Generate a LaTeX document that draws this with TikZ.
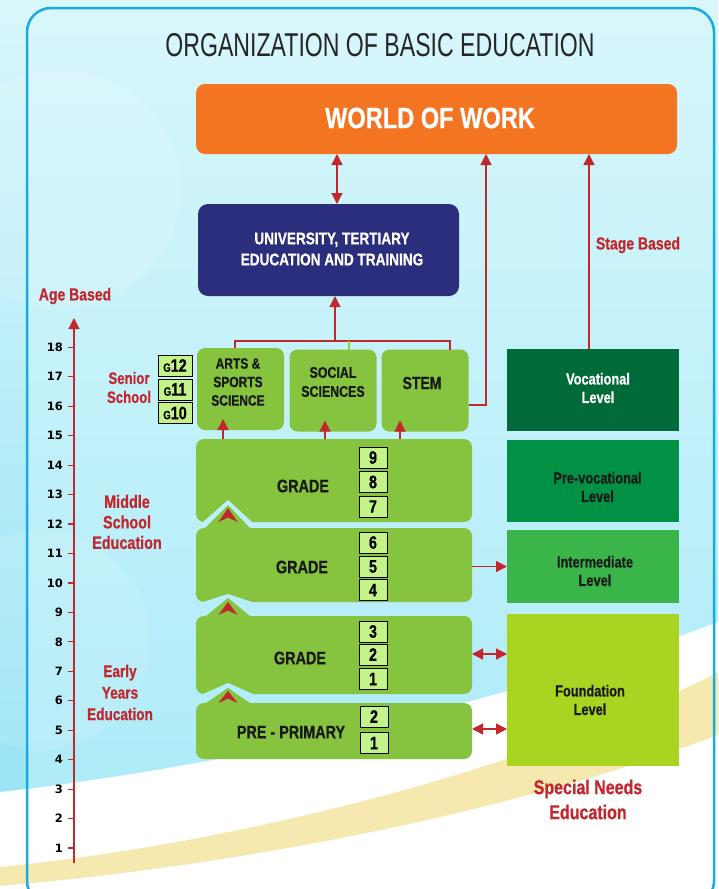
\documentclass[tikz,border=0pt]{standalone}
\usepackage{fontspec}
\setmainfont{Liberation Sans}
\newfontfamily\cf[FakeStretch=0.8, BoldFeatures={FakeBold=0.6}]{Liberation Sans}
\newfontfamily\ttl[FakeStretch=0.70]{Liberation Sans}
\newfontfamily\numf{DejaVu Sans}
\usetikzlibrary{arrows.meta}
\definecolor{wowc}{HTML}{F37421}
\definecolor{navyc}{HTML}{2B2E7C}
\definecolor{gbox}{HTML}{86C440}
\definecolor{lbox}{HTML}{C4F38A}
\definecolor{red1}{HTML}{C1272D}
\definecolor{vocc}{HTML}{006B38}
\definecolor{prevocc}{HTML}{009145}
\definecolor{interc}{HTML}{3AB54A}
\definecolor{foundc}{HTML}{A9D422}
\definecolor{frameblue}{HTML}{1CA9E1}
\definecolor{cyanA}{HTML}{D8F7FB}
\definecolor{cyanB}{HTML}{A8EAF8}
\definecolor{cyanC}{HTML}{92E2F5}
\definecolor{sand}{HTML}{F5E9B0}
\definecolor{tickgreen}{HTML}{9ACD32}
\newcommand\setfs[2]{\fontsize{#1}{#2}\selectfont}
\newcommand\bgpaint{%
  \shade[top color=cyanA, bottom color=cyanB] (0,0) rectangle (718,889);
  \shade[top color=cyanA, bottom color=cyanC] (0,0) rectangle (26,889);
  \fill[white, opacity=0.12] (60,190) circle[radius=120];
  \fill[white, opacity=0.10] (40,640) circle[radius=110];
  \fill[white] (0,792) .. controls (200,770) and (480,712) .. (718,622) -- (718,889) -- (0,889) -- cycle;
  \fill[sand] (0,867) .. controls (250,842) and (540,765) .. (718,672) -- (718,735) .. controls (560,795) and (300,860) .. (0,886) -- cycle;
}
\begin{document}
\begin{tikzpicture}[x=1pt,y=-1pt,
  arr/.style={draw=red1, line width=1.3pt, -{Triangle[length=11pt,width=11pt]}},
  darr/.style={draw=red1, line width=1.3pt, {Triangle[length=11pt,width=11pt]}-{Triangle[length=11pt,width=11pt]}},
  numbox/.style={draw=black, line width=0.8pt, fill=lbox, minimum width=28pt, minimum height=21pt, inner sep=0pt, font=\cf\bfseries\setfs{18}{18}},
  gbx/.style={draw=black, line width=0.8pt, fill=lbox, minimum width=34pt, minimum height=21pt, inner sep=0pt, font=\cf\bfseries},
  lbl/.style={font=\cf\bfseries\setfs{18}{21}, text=black!90, align=center, inner sep=0pt},
  redl/.style={font=\cf\bfseries\setfs{17.5}{21}, text=red1, align=center, inner sep=0pt},
  lvlt/.style={font=\cf\bfseries\setfs{16}{18.5}, text=black!90, align=center, inner sep=0pt},
  area/.style={inner sep=0pt, outer sep=0pt},
  chev/.style={fill=red1},
]
\useasboundingbox (0,0) rectangle (718,889);
\bgpaint
\draw[frameblue, line width=2.5pt, rounded corners=24pt] (27,8) rectangle (714,905);

% title
\node[font=\ttl\setfs{33}{33}, text=black!85, inner sep=0pt] (title) at (380,45.5) {ORGANIZATION OF BASIC EDUCATION};

% world of work
\node[area, fill=wowc, rounded corners=9pt, minimum width=481pt, minimum height=70pt] (wow) at (436.5,119) {};
\node[font=\cf\bfseries\setfs{29.5}{30}, text=white, inner sep=0pt] (wowt) at (430,118) {WORLD OF WORK};

% university
\node[area, fill=navyc, rounded corners=10pt, minimum width=261pt, minimum height=92pt] (univ) at (328.5,250) {};
\node[font=\cf\bfseries\setfs{17}{21}, text=white, align=center, inner sep=0pt] (univt) at (332,249) {UNIVERSITY, TERTIARY\\EDUCATION AND TRAINING};

% senior school boxes
\node[area, fill=gbox, rounded corners=8pt, minimum width=87pt, minimum height=82pt] (arts) at (240.5,389) {};
\node[lbl, font=\cf\bfseries\setfs{15}{18.5}] (artst) at (238,382) {ARTS \&\\SPORTS\\SCIENCE};
\node[area, fill=gbox, rounded corners=8pt, minimum width=87pt, minimum height=82pt] (soc) at (333,390.5) {};
\node[lbl, font=\cf\bfseries\setfs{15.5}{19}] (soct) at (333,382) {SOCIAL\\SCIENCES};
\node[area, fill=gbox, rounded corners=8pt, minimum width=87pt, minimum height=82pt] (stem) at (425,390.5) {};
\node[lbl, font=\cf\bfseries\setfs{17.5}{20}] (stemt) at (422,383) {STEM};

% G boxes
\node[gbx] (g12) at (175,365.5) {{\setfs{12}{12}G}{\setfs{18}{18}12}};
\node[gbx] (g11) at (175,389.5) {{\setfs{12}{12}G}{\setfs{18}{18}11}};
\node[gbx] (g10) at (175,413) {{\setfs{12}{12}G}{\setfs{18}{18}10}};

% grade boxes (anchor areas)
\node[area, minimum width=276pt, minimum height=83pt] (g79) at (334,480.5) {};
\node[area, minimum width=276pt, minimum height=74pt] (g46) at (334,565) {};
\node[area, minimum width=276pt, minimum height=78pt] (g13) at (334,655) {};
\node[area, minimum width=276pt, minimum height=56pt] (pp) at (334,731) {};

% grades 7-9
\fill[gbox, rounded corners=8pt] (g79.south west) rectangle (g79.north east);
\begin{scope}\clip (203,524) -- (203,522) -- (228,500) -- (252,522) -- (252,524) -- cycle; \bgpaint\end{scope}
% grades 4-6
\fill[gbox, rounded corners=8pt] (g46.south west) rectangle (g46.north east);
\fill[gbox] (205,530) -- (205,528) -- (228,505) -- (250,528) -- (250,530) -- cycle;
\fill[chev] (218.5,522) -- (228,508) -- (237.5,522) -- (228,517.5) -- cycle;
\begin{scope}\clip (203,604) -- (203,602) -- (228,594) -- (252,602) -- (252,604) -- cycle; \bgpaint\end{scope}
% grades 1-3
\fill[gbox, rounded corners=8pt] (g13.south west) rectangle (g13.north east);
\fill[gbox] (206,618) -- (206,616) -- (228,598) -- (250,616) -- (250,618) -- cycle;
\fill[chev] (218.5,615) -- (228,602) -- (237.5,615) -- (228,610.5) -- cycle;
\begin{scope}\clip (203,696) -- (203,694) -- (228,683) -- (253,694) -- (253,696) -- cycle; \bgpaint\end{scope}
% pre-primary
\fill[gbox, rounded corners=8pt] (pp.south west) rectangle (pp.north east);
\fill[gbox] (206,705) -- (206,703) -- (228,688) -- (250,703) -- (250,705) -- cycle;
\fill[chev] (218.5,703) -- (228,691) -- (237.5,703) -- (228,698.5) -- cycle;

% grade labels
\node[lbl] (gr79) at (303,486) {GRADE};
\node[lbl] (gr46) at (302,567) {GRADE};
\node[lbl] (gr13) at (300,658) {GRADE};
\node[lbl] (prt) at (291,732) {PRE - PRIMARY};

% number boxes
\node[numbox] (n9) at (373,457.5) {9};
\node[numbox] (n8) at (373,482) {8};
\node[numbox] (n7) at (373,506.5) {7};
\node[numbox] (n6) at (373,542.5) {6};
\node[numbox] (n5) at (373,566.5) {5};
\node[numbox] (n4) at (373,590) {4};
\node[numbox] (n3) at (373,631.5) {3};
\node[numbox] (n2) at (373,654.5) {2};
\node[numbox] (n1) at (373,679) {1};
\node[numbox] (p2) at (374,716.5) {2};
\node[numbox] (p1) at (374,743) {1};

% right column
\node[area, fill=vocc, minimum width=172pt, minimum height=82pt] (voc) at (593,390) {};
\node[lvlt, text=white] (voct) at (598,388) {Vocational\\Level};
\node[area, fill=prevocc, minimum width=172pt, minimum height=82pt] (prevoc) at (593,481) {};
\node[lvlt] (prevoct) at (597.5,487) {Pre-vocational\\Level};
\node[area, fill=interc, minimum width=172pt, minimum height=73pt] (inter) at (593,566.5) {};
\node[lvlt] (intert) at (595,571) {Intermediate\\Level};
\node[area, fill=foundc, minimum width=172pt, minimum height=152pt] (found) at (593,690) {};
\node[lvlt] (foundt) at (590,700) {Foundation\\Level};

% red labels
\node[redl] (stage) at (638,245) {Stage Based};
\node[redl] (ageb) at (75,296) {Age Based};
\node[redl, font=\cf\bfseries\setfs{16.5}{19}] (senior) at (129,387.5) {Senior\\School};
\node[redl, font=\cf\bfseries\setfs{18}{20.5}] (middle) at (127,522) {Middle\\School\\Education};
\node[redl, font=\cf\bfseries\setfs{17}{21.5}] (early) at (120,692.5) {Early\\Years\\Education};
\node[redl, font=\cf\bfseries\setfs{20}{25}] (special) at (588,799.5) {Special Needs\\Education};

% connectors
\draw[darr] ([xshift=8.5pt]univ.north) -- ([xshift=8.5pt]univ.north |- wow.south);
\coordinate (bl) at (235,341);
\coordinate (br) at (450,341);
\coordinate (bm) at (349,341);
\coordinate (bu) at (335,341);
\draw[red1, line width=1.3pt] (bl |- arts.north) -- (bl) -- (br) -- (br |- stem.north);
\draw[tickgreen, line width=1.2pt] (bm) -- (bm |- soc.north);
\draw[arr] (bu) -- (bu |- univ.south);
\coordinate (sr) at (486,405);
\draw[arr] (sr -| stem.east) -- (sr) -- (sr |- wow.south);
\draw[arr] ([xshift=-4pt]voc.north) -- ([xshift=-4pt]voc.north |- wow.south);
\coordinate (a1) at (223,439);
\coordinate (a2) at (325,439);
\coordinate (a3) at (400,439);
\draw[arr, shorten >=-11pt] (a1) -- (a1 |- arts.south);
\draw[arr, shorten >=-11pt] (a2) -- (a2 |- soc.south);
\draw[arr, shorten >=-11pt] (a3) -- (a3 |- stem.south);
\draw[arr] (g46.east |- inter.west) -- (inter.west);
\coordinate (d1) at (472,654);
\coordinate (d2) at (472,729);
\draw[darr] (d1) -- (d1 -| found.west);
\draw[darr] (d2) -- (d2 -| found.west);

% age axis
\coordinate (axb) at (74,863);
\coordinate (axt) at (74,318);
\draw[arr] (axb) -- (axt);
\foreach \a in {1,...,18} {
  \pgfmathsetmacro\yy{848-(\a-1)*29.45}
  \draw[red1, line width=1.2pt] (68,\yy) -- (74,\yy);
  \node[anchor=east, font=\numf\bfseries\setfs{11.5}{12}, inner sep=0pt] (age\a) at (63,\yy) {\a};
}
\end{tikzpicture}
\end{document}
